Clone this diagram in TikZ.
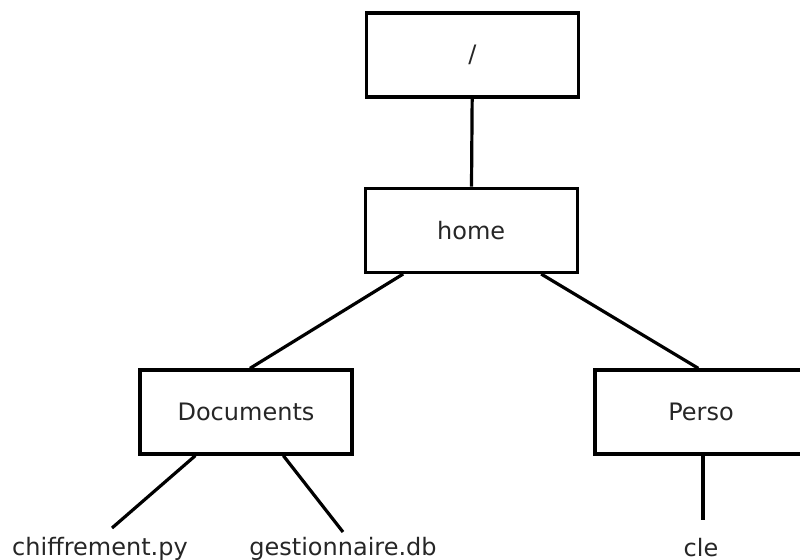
\documentclass[tikz,border=0pt]{standalone}
\usepackage{fontspec}
\setmainfont{DejaVu Sans}
\usetikzlibrary{positioning}

\begin{document}
\begin{tikzpicture}[x=0.75pt, y=-0.75pt, every node/.style={font=\fontsize{18pt}{21pt}\selectfont, text=black!85},
    dirbox/.style={rectangle, draw=black, line width=2.5pt, minimum width=159pt, minimum height=63pt},
    filenode/.style={inner sep=0pt},
    link/.style={line width=2.4pt}]

    \useasboundingbox (0,0) rectangle (800,560);

    % Directories
    \node[dirbox] (root) at (472.5,55) {/};
    \node[dirbox] (home) [below=66pt of root.south, anchor=north, xshift=-1pt] {home};
    \node[dirbox] (documents) at (246,412) {Documents};
    \node[dirbox] (perso) at (701,412) {Perso};

    % Files
    \node[filenode] (chiffrement) at (100,549) {chiffrement.py};
    \node[filenode] (gestionnaire) at (343,549) {gestionnaire.db};
    \node[filenode] (cle) at (701,548) {cle};
    \coordinate (chiffrementend) at (112,528);
    \coordinate (gestionnaireend) at (343,532);
    \coordinate (cleend) at (703,520);

    % Links
    \draw[link] (root) -- (home);
    \draw[link] ([xshift=-51pt]home.south) -- ([xshift=3pt]documents.north);
    \draw[link] ([xshift=52.5pt]home.south) -- ([xshift=-2pt]perso.north);
    \draw[link] ([xshift=-38pt]documents.south) -- (chiffrementend);
    \draw[link] ([xshift=28pt]documents.south) -- (gestionnaireend);
    \draw[link] ([xshift=1.5pt]perso.south) -- (cleend);

\end{tikzpicture}
\end{document}
